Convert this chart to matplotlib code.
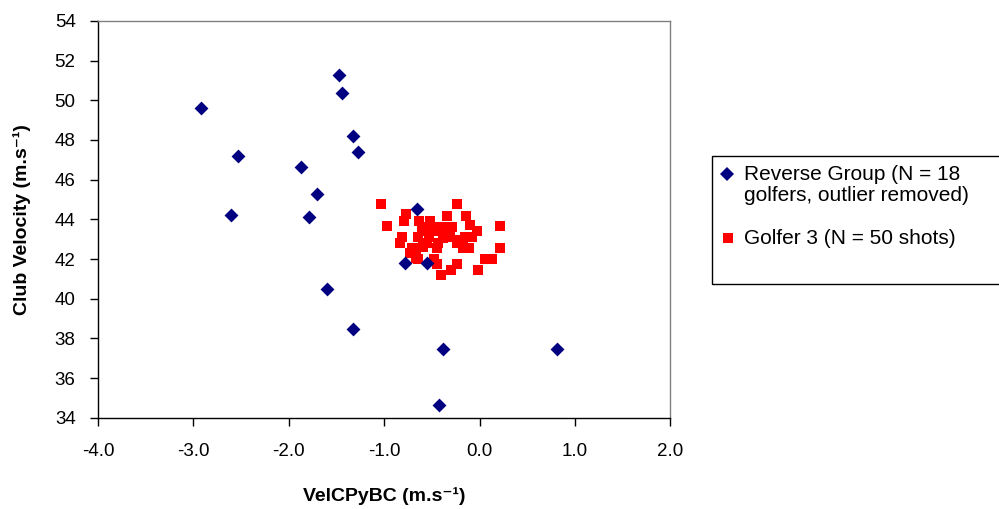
import matplotlib
matplotlib.use("Agg")
import matplotlib.pyplot as plt
from matplotlib.patches import Rectangle
from matplotlib.lines import Line2D

plt.rcParams['font.family'] = ['Liberation Sans', 'DejaVu Sans']

# Reverse group (N = 18 golfers, outlier removed)
reverse_x = [-2.92, -2.53, -2.60, -1.47, -1.44, -1.33, -1.27, -1.87, -1.70,
             -1.79, -1.60, -1.33, -0.38, -0.42, 0.81, -0.66, -0.78, -0.55]
reverse_y = [49.6, 47.2, 44.2, 51.25, 50.35, 48.2, 47.4, 46.65, 45.3,
             44.1, 40.5, 38.5, 37.45, 34.65, 37.45, 44.5, 41.8, 41.8]

# Golfer 3 (N = 50 shots)
golfer3_x = [-1.03, -0.24, -0.97, -0.77, -0.79, -0.34, -0.14, 0.21, 0.21, -0.81,
             -0.83, -0.67, -0.64, -0.48, -0.45, -0.40, -0.30, -0.24, -0.02, 0.06,
             0.13, -0.10, -0.03, -0.17, -0.11, -0.15, -0.08, -0.63, -0.52, -0.39,
             -0.29, -0.57, -0.45, -0.31, -0.64, -0.43, -0.59, -0.71, -0.53, -0.20,
             -0.50, -0.73, -0.55, -0.34, -0.24, -0.60, -0.38, -0.67, -0.17, -0.45]
golfer3_y = [44.77, 44.77, 43.67, 44.28, 43.92, 44.19, 44.19, 43.67, 42.55, 43.10,
             42.83, 42.55, 42.01, 42.01, 41.74, 41.20, 41.46, 41.74, 41.46, 42.01,
             42.01, 43.72, 43.39, 42.55, 42.55, 43.10, 43.10, 43.92, 43.92, 43.64,
             43.64, 43.39, 43.39, 43.10, 43.10, 42.80, 42.63, 42.55, 43.10, 42.97,
             43.64, 42.30, 42.80, 43.39, 42.80, 43.64, 43.05, 42.05, 42.80, 42.55]

series_labels = ["Reverse Group (N = 18\ngolfers, outlier removed)",
                 "Golfer 3 (N = 50 shots)"]
x_ticks = [-4.0, -3.0, -2.0, -1.0, 0.0, 1.0, 2.0]
y_ticks = list(range(34, 55, 2))

navy = "#000080"
red = "#FF0000"

fig = plt.figure(figsize=(9.99, 5.09), dpi=100)
ax = fig.add_axes([0.098, 0.179, 0.573, 0.780])

ax.scatter(golfer3_x, golfer3_y, marker='s', s=52, color=red, linewidths=0, zorder=3)
ax.scatter(reverse_x, reverse_y, marker='D', s=50, color=navy, linewidths=0, zorder=4)

ax.set_xlim(-4.0, 2.0)
ax.set_ylim(34, 54)
ax.set_xticks(x_ticks)
ax.set_xticklabels([f"{v:.1f}" for v in x_ticks])
ax.set_yticks(y_ticks)
ax.tick_params(axis='both', labelsize=13.5, direction='out', length=6, width=1, color='black')
ax.tick_params(axis='x', pad=12)
ax.tick_params(axis='y', pad=10)

for side in ('left', 'bottom'):
    ax.spines[side].set_color('black')
    ax.spines[side].set_linewidth(1)
for side in ('top', 'right'):
    ax.spines[side].set_color('#808080')
    ax.spines[side].set_linewidth(1)

ax.set_xlabel("VelCPyBC (m.s⁻¹)", fontsize=14, fontweight='bold', va='center')
ax.set_ylabel("Club Velocity (m.s⁻¹)", fontsize=14, fontweight='bold', va='center')
ax.xaxis.set_label_coords(0.5, -0.196)
ax.yaxis.set_label_coords(-0.133, 0.5)

# Legend box, partly running past the right edge of the figure
W, H = 999.0, 509.0
def fx(px):
    return px / W
def fy(py):
    return 1 - py / H

fig.add_artist(Rectangle((fx(712), fy(284)), fx(320), (284 - 156) / H,
                         transform=fig.transFigure, facecolor='white',
                         edgecolor='black', linewidth=1, clip_on=False))
fig.add_artist(Line2D([fx(727)], [fy(174)], marker='D', markersize=7,
                      color=navy, markeredgewidth=0, transform=fig.transFigure))
fig.add_artist(Line2D([fx(728)], [fy(238)], marker='s', markersize=7,
                      color=red, markeredgewidth=0, transform=fig.transFigure))
fig.text(fx(744), fy(185), series_labels[0], fontsize=15, va='center',
         ha='left', linespacing=1.08, transform=fig.transFigure)
fig.text(fx(744), fy(238), series_labels[1], fontsize=15, va='center',
         ha='left', transform=fig.transFigure)

fig.savefig("out.png", dpi=100)
